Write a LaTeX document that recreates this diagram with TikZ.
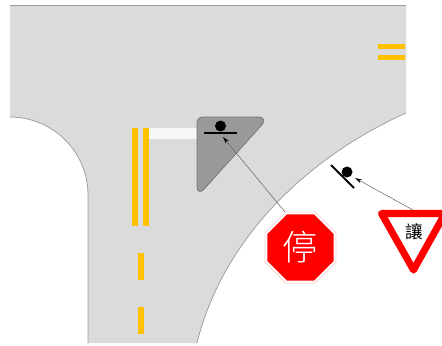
\documentclass[tikz,border=0pt]{standalone}
\usepackage{xcolor}
\usepackage{fontspec}
\usetikzlibrary{arrows.meta,shapes.geometric}
\newfontfamily\cjk{Noto Sans CJK TC}
\newfontfamily\cjklight{Noto Sans CJK TC Light}
\definecolor{road}{HTML}{DBDBDB}
\definecolor{curb}{HTML}{999999}
\definecolor{lane}{HTML}{FFC000}
\definecolor{signred}{HTML}{FF0000}

\begin{document}
\begin{tikzpicture}[
          x=0.02cm, y=-0.02cm,
          curbline/.style={draw=curb, line width=0.4pt},
          paint/.style={fill=lane},
          sight/.style={draw=black!60, line width=0.3pt, -{Stealth[length=4pt,width=2.2pt,black]}},
          waiter/.style={circle, fill=black, inner sep=0pt, minimum size=0.22cm},
          stopsign/.style={regular polygon, regular polygon sides=8, inner sep=0pt}
      ]
        \clip (0,0) rectangle (442,345);

        \fill[road] (10,5) -- (406,5) -- (406,113)
            .. controls (308,157) and (223,238) .. (197,343)
            -- (88,343) -- (88,195)
            .. controls (88,152) and (53,117) .. (10,117) -- cycle;
        \draw[curbline] (10,5) -- (406,5);
        \draw[curbline] (406,113) .. controls (308,157) and (223,238) .. (197,343);
        \draw[curbline] (88,343) -- (88,195) .. controls (88,152) and (53,117) .. (10,117);

        \fill[paint] (132,128) rectangle (138,226);
        \fill[paint] (143,128) rectangle (149,226);
        \fill[paint] (138,253) rectangle (143.5,280);
        \fill[paint] (138,307) rectangle (143.5,334);
        \fill[paint] (378,44) rectangle (405,49);
        \fill[paint] (378,55) rectangle (405,60);
        \fill[white!97!black] (149,128) rectangle (197,139);

        \draw[draw=black!55, fill=black!40, line width=0.4pt]
            (197,150) [rounded corners=0.1cm] -- (197,117) [rounded corners=0.22cm] -- (269,117) -- (197,197) -- cycle;

        \draw[line width=1.1pt] (204,133) -- (237,133);
        \node[waiter] (stopman) at (220.5,126) {};
        \coordinate (stopfoot) at (223,137);

        \draw[line width=1.1pt] (331,165) -- (354,188);
        \node[waiter] (yieldman) at (347,172) {};
        \coordinate (yieldfoot) at (355,178);

        \node[stopsign, fill=white, draw=red!20, line width=0.4pt, minimum size=1.537cm] (stopout) at (300.5,247.5) {};
        \node[stopsign, fill=signred, text=white, minimum size=1.43cm, font=\cjklight\fontsize{20}{20}\selectfont] (stop) at (300.5,247.5) {停};

        \draw[draw=signred, fill=white, line width=4pt, line join=round]
            (381.5,213.5) -- (445,213.5) -- (413.5,270) -- cycle;
        \node[inner sep=0pt, font=\cjk\fontsize{10}{10}\selectfont] (yield) at (414,232) {讓};
        \coordinate (yieldtop) at (413,210);
        \coordinate (stopcorner) at (285,212);

        \draw[sight] (stopcorner) -- (stopfoot);
        \draw[sight] (yieldtop) -- (yieldfoot);
\end{tikzpicture}
\end{document}
